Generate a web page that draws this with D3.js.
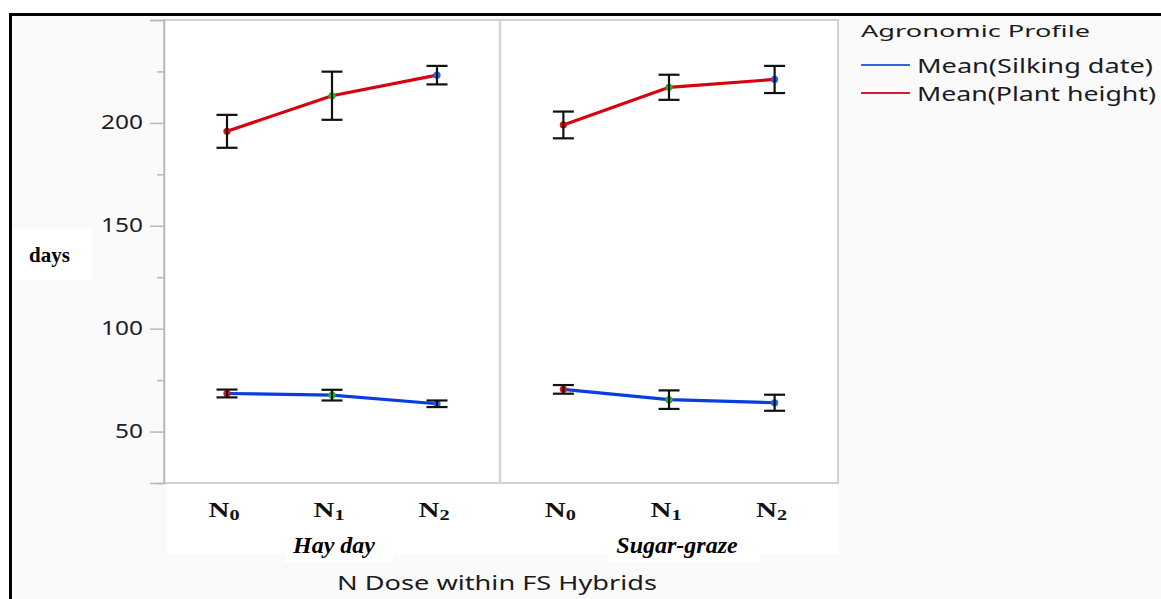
<!DOCTYPE html>
<html><head><meta charset="utf-8">
<script src="https://cdn.jsdelivr.net/npm/d3@7"></script>
<style>html,body{margin:0;padding:0;background:#fff;}svg{display:block;}</style>
</head><body>
<svg id="chart" width="1161" height="599"></svg>
<script>
// ---- data ----
const hybrids = ["Hay day", "Sugar-graze"];
const doses = ["0", "1", "2"]; // N subscripts
const silkingMean = [[68.5, 67.7, 63.5], [70.5, 65.5, 64.0]];
const silkingErr  = [[1.9, 2.6, 1.6], [2.1, 4.5, 3.9]];
const heightMean  = [[195.9, 213.2, 223.2], [199.0, 217.3, 221.1]];
const heightErr   = [[8.0, 11.7, 4.5], [6.5, 6.1, 6.6]];
const yMajorTicks = [50, 100, 150, 200, 250];
const yTickLabels = ["50", "100", "150", "200", ""];
const yMinorTicks = [25, 75, 125, 175, 225];
const legendTitle = "Agronomic Profile";
const seriesNames = ["Mean(Silking date)", "Mean(Plant height)"];
const yTitle = "days";
const xTitle = "N Dose within FS Hybrids";

const svg = d3.select("#chart");
const W = 1161, H = 599;
const plot = {x0: 164, x1: 838, y0: 20, y1: 483};
const divX = 500;

// background
svg.append("rect").attr("x", 0).attr("y", 0).attr("width", W).attr("height", H).attr("fill", "#fff");
svg.append("rect").attr("x", 10).attr("y", 14).attr("width", W - 10).attr("height", H - 14).attr("fill", "#fafafa");

// white patches behind pasted labels
svg.append("rect").attr("x", 10).attr("y", 228).attr("width", 82).attr("height", 52).attr("fill", "#fff");
svg.append("rect").attr("x", 167).attr("y", 484).attr("width", 671).attr("height", 70).attr("fill", "#fff");
svg.append("rect").attr("x", 285).attr("y", 540).attr("width", 108).attr("height", 23).attr("fill", "#fff");
svg.append("rect").attr("x", 608).attr("y", 540).attr("width", 152).attr("height", 22).attr("fill", "#fff");

// plot area
svg.append("rect").attr("x", plot.x0).attr("y", plot.y0)
  .attr("width", plot.x1 - plot.x0).attr("height", plot.y1 - plot.y0)
  .attr("fill", "#fff").attr("stroke", "#c4c4c4").attr("stroke-width", 1.5);
svg.append("line").attr("x1", divX).attr("x2", divX).attr("y1", plot.y0).attr("y2", plot.y1)
  .attr("stroke", "#d4d4d4").attr("stroke-width", 2.5);

const y = d3.scaleLinear().domain([25, 250]).range([plot.y1, plot.y0]);

// y axis
const yAxis = d3.axisLeft(y).tickValues(yMajorTicks).tickSize(14).tickPadding(7)
  .tickFormat((d, i) => yTickLabels[i]);
const ga = svg.append("g").attr("transform", `translate(${plot.x0},0)`).call(yAxis);
ga.select(".domain").attr("stroke", "#b8b8b8").attr("stroke-width", 1.5);
ga.selectAll(".tick line").attr("stroke", "#b8b8b8").attr("stroke-width", 1.5);
ga.selectAll(".tick text").attr("font-family", "'Noto Sans', sans-serif").attr("font-size", 19)
  .attr("fill", "#1d1d2b")
  .each(function(d, i) { const t = yTickLabels[i]; if (t) d3.select(this).attr("textLength", t.length * 14).attr("lengthAdjust", "spacingAndGlyphs"); });
const yMinor = d3.axisLeft(y).tickValues(yMinorTicks).tickSize(7).tickFormat("");
const gm = svg.append("g").attr("transform", `translate(${plot.x0},0)`).call(yMinor);
gm.select(".domain").remove();
gm.selectAll(".tick line").attr("stroke", "#b8b8b8").attr("stroke-width", 1.5);

// y title
svg.append("text").attr("x", 29).attr("y", 262).text(yTitle)
  .attr("font-family", "'Liberation Serif', serif").attr("font-weight", "bold").attr("font-size", 21).attr("fill", "#000");

// panels
const panelRanges = [[plot.x0, divX], [divX, plot.x1]];
const markerColors = ["#e01010", "#22bb22", "#1f66ee"];
const series = [
  {mean: silkingMean, err: silkingErr, color: "#0a3de0"},
  {mean: heightMean, err: heightErr, color: "#d80010"}
];
const hybridLabelX = [334, 677];

hybrids.forEach((h, p) => {
  const x = d3.scalePoint().domain(doses).range(panelRanges[p]).padding(0.6);
  series.forEach(s => {
    const pts = doses.map((d, i) => ({d, v: s.mean[p][i], e: s.err[p][i], i}));
    svg.append("path").datum(pts)
      .attr("d", d3.line().x(q => x(q.d)).y(q => y(q.v)))
      .attr("fill", "none").attr("stroke", s.color).attr("stroke-width", 3.2);
    svg.selectAll(null).data(pts).enter().append("circle")
      .attr("cx", q => x(q.d)).attr("cy", q => y(q.v)).attr("r", 3.6)
      .attr("fill", q => markerColors[q.i]);
    const eb = svg.selectAll(null).data(pts).enter().append("g");
    eb.append("line").attr("x1", q => x(q.d)).attr("x2", q => x(q.d))
      .attr("y1", q => y(q.v + q.e)).attr("y2", q => y(q.v - q.e));
    eb.append("line").attr("x1", q => x(q.d) - 10.5).attr("x2", q => x(q.d) + 10.5)
      .attr("y1", q => y(q.v + q.e)).attr("y2", q => y(q.v + q.e));
    eb.append("line").attr("x1", q => x(q.d) - 10.5).attr("x2", q => x(q.d) + 10.5)
      .attr("y1", q => y(q.v - q.e)).attr("y2", q => y(q.v - q.e));
    eb.selectAll("line").attr("stroke", "#111").attr("stroke-width", 2.2);
  });
  // x tick labels N with subscript
  doses.forEach(d => {
    const t = svg.append("text")
      .attr("transform", `translate(${x(d) - 3},517) scale(1.45,1)`)
      .attr("text-anchor", "middle")
      .attr("font-family", "'Liberation Serif', serif").attr("font-weight", "bold")
      .attr("font-size", 20).attr("fill", "#111");
    t.append("tspan").text("N");
    t.append("tspan").text(d).attr("font-size", 14).attr("dy", 3);
  });
  svg.append("text").attr("x", hybridLabelX[p]).attr("y", 553)
    .attr("text-anchor", "middle").text(h)
    .attr("font-family", "'Liberation Serif', serif").attr("font-weight", "bold").attr("font-style", "italic")
    .attr("font-size", 24).attr("fill", "#000");
});

// x title
svg.append("text").attr("x", 337).attr("y", 590).text(xTitle)
  .attr("font-family", "'Noto Sans', sans-serif").attr("font-size", 20).attr("fill", "#1a1a22")
  .attr("textLength", 320).attr("lengthAdjust", "spacingAndGlyphs");

// legend
svg.append("text").attr("x", 861).attr("y", 37).text(legendTitle)
  .attr("font-family", "'Noto Sans', sans-serif").attr("font-size", 17).attr("fill", "#1a1a22")
  .attr("textLength", 229).attr("lengthAdjust", "spacingAndGlyphs");
const legColors = ["#2a6cd8", "#d02030"];
const legY = [65, 93];
const legW = [236, 239];
seriesNames.forEach((n, i) => {
  svg.append("line").attr("x1", 861).attr("x2", 910).attr("y1", legY[i]).attr("y2", legY[i])
    .attr("stroke", legColors[i]).attr("stroke-width", 1.8);
  svg.append("text").attr("x", 917).attr("y", legY[i] + 8).text(n)
    .attr("font-family", "'Noto Sans', sans-serif").attr("font-size", 19).attr("fill", "#1a1a22")
    .attr("textLength", legW[i]).attr("lengthAdjust", "spacingAndGlyphs");
});

// outer borders (top and left)
svg.append("line").attr("x1", 9).attr("x2", W).attr("y1", 14.5).attr("y2", 14.5).attr("stroke", "#000").attr("stroke-width", 3);
svg.append("line").attr("x1", 10.5).attr("x2", 10.5).attr("y1", 13).attr("y2", H).attr("stroke", "#000").attr("stroke-width", 3);
</script>
</body></html>
